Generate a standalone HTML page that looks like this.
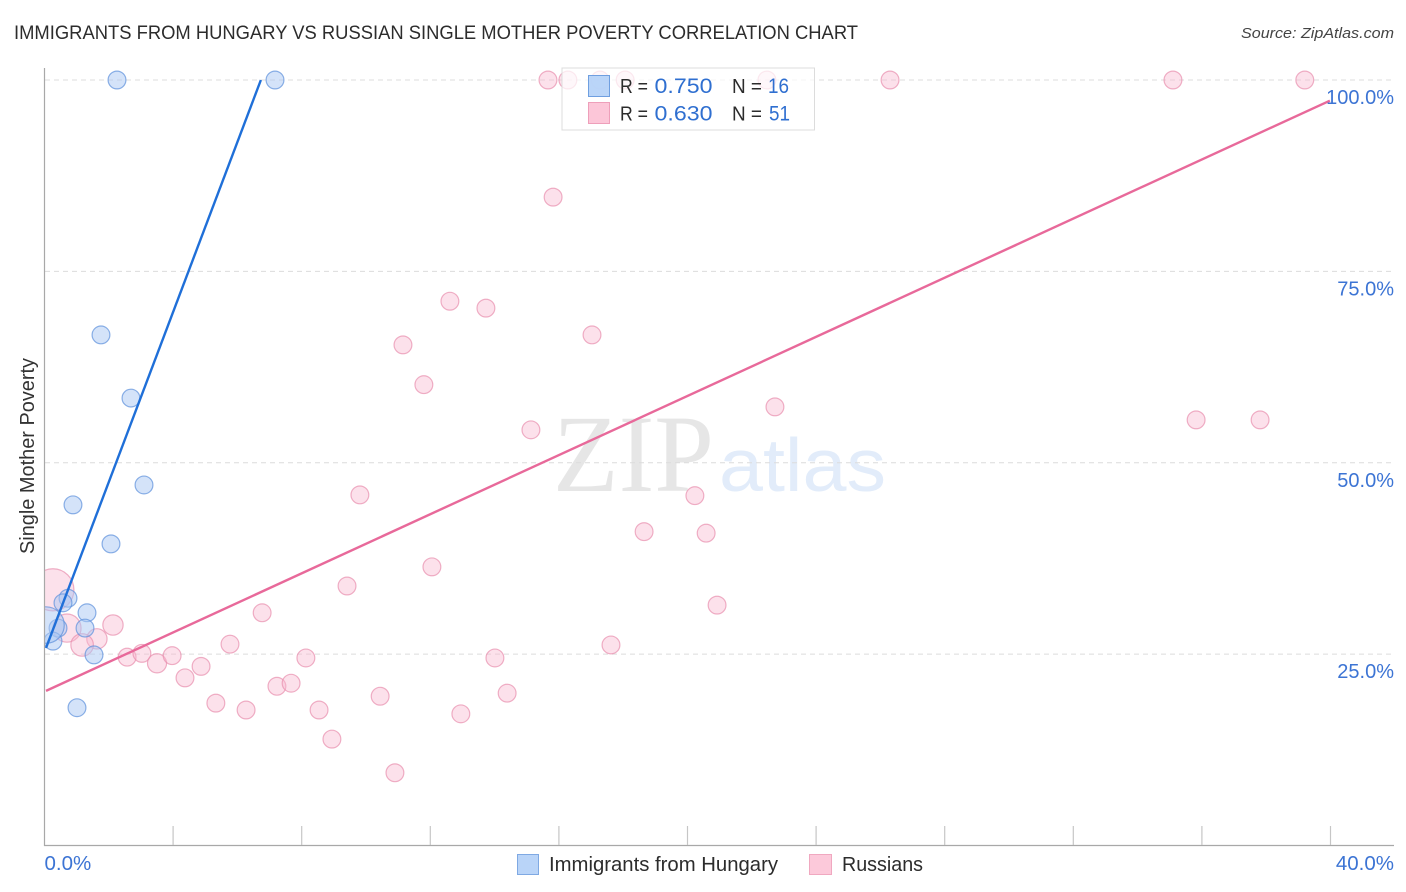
<!DOCTYPE html>
<html lang="en">
<head>
<meta charset="utf-8">
<title>Immigrants from Hungary vs Russian Single Mother Poverty Correlation Chart</title>
<style>
html,body{margin:0;padding:0;background:#fff;width:1406px;height:892px;overflow:hidden}
svg{display:block}
text{font-family:"Liberation Sans",sans-serif}
</style>
</head>
<body>
<svg id="chart" xmlns="http://www.w3.org/2000/svg" width="1406" height="892" viewBox="0 0 1406 892">
  <text x="14" y="39" font-size="19" fill="#2c2c2c" textLength="844" lengthAdjust="spacingAndGlyphs">IMMIGRANTS FROM HUNGARY VS RUSSIAN SINGLE MOTHER POVERTY CORRELATION CHART</text>
  <text x="1241" y="38" font-size="15" font-style="italic" fill="#444" textLength="153" lengthAdjust="spacingAndGlyphs">Source: ZipAtlas.com</text>

  <g>
    <text x="553" y="491" font-size="110" fill="#e6e6e6" style="font-family:'Liberation Serif',serif" textLength="161" lengthAdjust="spacingAndGlyphs">ZIP</text>
    <text x="719" y="491" font-size="75" fill="#e2ecfa" textLength="167" lengthAdjust="spacingAndGlyphs">atlas</text>
  </g>

  <g id="grid"></g>
  <svg x="45" y="60" width="1349" height="785" viewBox="45 60 1349 785" overflow="hidden">
    <g id="points-russians"></g>
    <g id="points-hungary"></g>
  </svg>
  <rect x="0" y="540" width="44.500" height="130" fill="#fff"/>
  <g id="axes"></g>
  <g id="trends"></g>
  <g id="tick-labels"></g>

  <text transform="translate(34,456) rotate(-90)" font-size="20" fill="#333" text-anchor="middle" textLength="196" lengthAdjust="spacingAndGlyphs">Single Mother Poverty</text>

  <g>
    <rect x="562" y="68" width="252.5" height="62" fill="#fff" fill-opacity="0.72" stroke="#dcdcdc" stroke-width="1"/>
    <rect x="588.5" y="75.5" width="21" height="21" fill="#b3d0f7" fill-opacity="0.9" stroke="#6f9fe0"/>
    <rect x="588.5" y="102.5" width="21" height="21" fill="#fcc6d8" stroke="#ee9fba"/>
    <text x="620" y="93" font-size="20" fill="#2c2c2c" textLength="28" lengthAdjust="spacingAndGlyphs">R =</text>
    <text x="654.5" y="93" font-size="21.5" fill="#2f6fd0" textLength="58" lengthAdjust="spacingAndGlyphs">0.750</text>
    <text x="732" y="93" font-size="20" fill="#2c2c2c" textLength="30" lengthAdjust="spacingAndGlyphs">N =</text>
    <text x="768" y="93" font-size="21.5" fill="#2f6fd0" textLength="21" lengthAdjust="spacingAndGlyphs">16</text>
    <text x="620" y="120.500" font-size="20" fill="#2c2c2c" textLength="28" lengthAdjust="spacingAndGlyphs">R =</text>
    <text x="654.5" y="120.500" font-size="21.5" fill="#2f6fd0" textLength="58" lengthAdjust="spacingAndGlyphs">0.630</text>
    <text x="732" y="120.500" font-size="20" fill="#2c2c2c" textLength="30" lengthAdjust="spacingAndGlyphs">N =</text>
    <text x="769" y="120.500" font-size="21.5" fill="#2f6fd0" textLength="21" lengthAdjust="spacingAndGlyphs">51</text>
  </g>

  <g>
    <g>
      <rect x="517.5" y="854.5" width="21" height="20" fill="#b9d4f8" stroke="#7fa9e3"/>
      <text x="549" y="871" font-size="20" fill="#2c2c2c" textLength="229" lengthAdjust="spacingAndGlyphs">Immigrants from Hungary</text>
    </g>
    <g>
      <rect x="809.5" y="854.5" width="22" height="20" fill="#fcc9da" stroke="#f0a8c0"/>
      <text x="842" y="871" font-size="20" fill="#2c2c2c" textLength="81" lengthAdjust="spacingAndGlyphs">Russians</text>
    </g>
  </g>
</svg>

<script>
const yTickValues = [25, 50, 75, 100];
const yTickLabels = ["25.0%", "50.0%", "75.0%", "100.0%"];
const xTickValues = [4, 8, 12, 16, 20, 24, 28, 32, 36, 40];
const xEndValues = [0, 40];
const xEndLabels = ["0.0%", "40.0%"];

const hungaryX = [2.255, 7.17, 1.757, 2.69, 3.095, 0.886, 2.068, 0.731, 0.575, 1.322, 1.26, 0.42, 0.264, 1.54, 1.011, 0.047];
const hungaryY = [100, 100, 66.7, 58.45, 47.1, 44.5, 39.4, 32.3, 31.7, 30.4, 28.4, 28.4, 26.7, 24.9, 18.0, 28.8];
const hungaryWeight = [1, 1, 1, 1, 1, 1, 1, 1, 1, 1, 1, 1, 1, 1, 1, 4.2];

const russiansX = [15.66, 16.28, 17.28, 18.06, 22.47, 26.3, 35.1, 39.2,
  15.82, 12.61, 13.73, 17.03, 11.15, 11.8, 22.72, 35.82, 37.81, 15.13,
  9.81, 20.23, 18.65, 20.58, 12.05, 9.41, 20.92, 6.77,
  2.13, 0.7, 1.63, 1.17, 2.57, 3.03, 3.5, 3.97, 4.87, 4.37, 5.77, 8.13, 17.62, 14.01,
  5.33, 6.27, 7.23, 7.67, 8.54, 8.94, 10.44, 10.9, 12.95, 14.39, 0.26];
const russiansY = [100, 100, 100, 100, 100, 100, 100, 100,
  84.7, 71.1, 70.2, 66.7, 65.4, 60.2, 57.3, 55.6, 55.6, 54.3,
  45.8, 45.7, 41.0, 40.8, 36.4, 33.9, 31.4, 30.4,
  28.8, 28.4, 27.0, 26.2, 24.6, 25.1, 23.8, 24.8, 23.4, 21.9, 26.3, 24.5, 26.2, 24.5,
  18.6, 17.7, 20.8, 21.2, 17.7, 13.9, 19.5, 9.5, 17.2, 19.9, 33.4];
const russiansWeight = [1, 1, 1, 1, 1, 1, 1, 1,
  1, 1, 1, 1, 1, 1, 1, 1, 1, 1,
  1, 1, 1, 1, 1, 1, 1, 1,
  1.3, 2.5, 1.3, 1.6, 1, 1, 1.15, 1, 1, 1, 1, 1, 1, 1,
  1, 1, 1, 1, 1, 1, 1, 1, 1, 1, 5.6];

const hungaryTrendX = [0.047, 6.73];
const hungaryTrendY = [25.8, 100];
const russiansTrendX = [0.047, 39.98];
const russiansTrendY = [20.2, 97.3];

const NS = 'http://www.w3.org/2000/svg';
function xScale(v) { return 44.5 + v * (1330.5 - 44.5) / 40; }
function yScale(v) { return 845.5 - v * (845.5 - 80) / 100; }
function rScale(w) { return 8.9 * Math.sqrt(w); }
function make(tag, attrs, parent) {
  const el = document.createElementNS(NS, tag);
  for (const k in attrs) el.setAttribute(k, attrs[k]);
  parent.appendChild(el);
  return el;
}

const grid = document.getElementById('grid');
const axes = document.getElementById('axes');
const labels = document.getElementById('tick-labels');

yTickValues.forEach(function (v, i) {
  const g = make('line', { x1: 45, x2: 1394, y1: yScale(v), y2: yScale(v), stroke: '#dcdcdc', 'stroke-width': 1, 'stroke-dasharray': '5 4' }, grid);
  
  
  const t = make('text', { x: 1394, y: yScale(v) + 24, 'font-size': 20, fill: '#3c74d4', 'text-anchor': 'end' }, labels);
  t.textContent = yTickLabels[i];
  
  
});

const yAxisLine = make('line', { x1: 44.5, x2: 44.5, y1: 68, y2: 846, stroke: '#a8a8a8', 'stroke-width': 1.2 }, axes);


const xAxisLine = make('line', { x1: 44, x2: 1394, y1: 845.5, y2: 845.5, stroke: '#a8a8a8', 'stroke-width': 1.2 }, axes);



xTickValues.forEach(function (v) {
  const tick = make('line', { x1: xScale(v), x2: xScale(v), y1: 826, y2: 845, stroke: '#c6c6c6', 'stroke-width': 1.2 }, axes);
  
  
});

xEndValues.forEach(function (v, i) {
  const x = i === 0 ? xScale(v) : 1394;
  const t = make('text', { x: x, y: 870, 'font-size': 20.500, fill: '#3c74d4', 'text-anchor': i === 0 ? 'start' : 'end' }, labels);
  t.textContent = xEndLabels[i];
  
  
});

const russiansGroup = document.getElementById('points-russians');
russiansX.forEach(function (v, i) {
  const c = make('circle', { cx: xScale(v), cy: yScale(russiansY[i]), r: rScale(russiansWeight[i]), fill: '#f9b8cf', 'fill-opacity': 0.42, stroke: '#e88fae', 'stroke-opacity': 0.7, 'stroke-width': 1.2 }, russiansGroup);
  
  
});

const hungaryGroup = document.getElementById('points-hungary');
hungaryX.forEach(function (v, i) {
  const c = make('circle', { cx: xScale(v), cy: yScale(hungaryY[i]), r: rScale(hungaryWeight[i]), fill: '#a9c8f3', 'fill-opacity': 0.5, stroke: '#5c90dc', 'stroke-opacity': 0.7, 'stroke-width': 1.2 }, hungaryGroup);
  
  
});

const trends = document.getElementById('trends');
const russiansTrend = make('line', { x1: xScale(russiansTrendX[0]), y1: yScale(russiansTrendY[0]), x2: xScale(russiansTrendX[1]), y2: yScale(russiansTrendY[1]), stroke: '#e8699a', 'stroke-width': 2.4 }, trends);


const hungaryTrend = make('line', { x1: xScale(hungaryTrendX[0]), y1: yScale(hungaryTrendY[0]), x2: xScale(hungaryTrendX[1]), y2: yScale(hungaryTrendY[1]), stroke: '#1f6fd8', 'stroke-width': 2.4 }, trends);


</script>
</body>
</html>
